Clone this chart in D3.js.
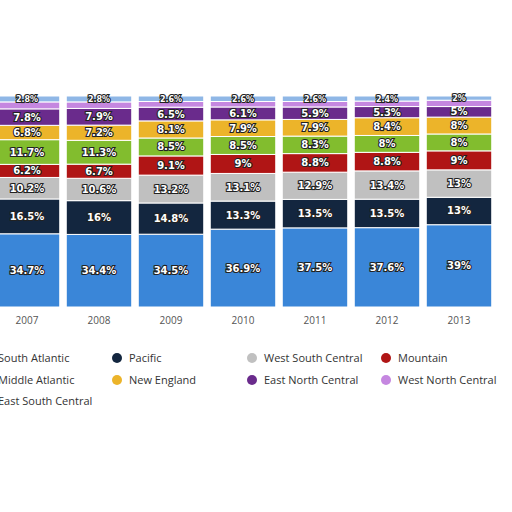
<!DOCTYPE html><html><head><meta charset="utf-8"><script src="https://cdn.jsdelivr.net/npm/d3@7"></script>
<style>body{margin:0;background:#fff}</style></head><body><svg id="c" width="512" height="512"></svg><script>
const years=["2007","2008","2009","2010","2011","2012","2013"];
const series=["South Atlantic","Pacific","West South Central","Mountain","Middle Atlantic","New England","East North Central","West North Central","East South Central"];
const colors=["#3a86d8","#13263f","#c0c0c0","#b01515","#82bd2e","#ecb42a","#6a2b8c","#c587e0","#8fb7e6"];
const southAtlantic=[34.7,34.4,34.5,36.9,37.5,37.6,39];
const pacific=[16.5,16,14.8,13.3,13.5,13.5,13];
const westSouthCentral=[10.2,10.6,13.2,13.1,12.9,13.4,13];
const mountain=[6.2,6.7,9.1,9,8.8,8.8,9];
const middleAtlantic=[11.7,11.3,8.5,8.5,8.3,8,8];
const newEngland=[6.8,7.2,8.1,7.9,7.9,8.4,8];
const eastNorthCentral=[7.8,7.9,6.5,6.1,5.9,5.3,5];
const westNorthCentral=[3.3,3.1,2.7,2.6,2.6,2.6,3];
const eastSouthCentral=[2.8,2.8,2.6,2.6,2.6,2.4,2];
const vals=[southAtlantic,pacific,westSouthCentral,mountain,middleAtlantic,newEngland,eastNorthCentral,westNorthCentral,eastSouthCentral];
const svg=d3.select("#c");
const x=d3.scaleBand().domain(years).range([-9,495]).paddingInner(0.09).paddingOuter(0.045);
const y=d3.scaleLinear().domain([0,100]).range([307,96]);
const data=years.map((yr,i)=>{const o={year:yr};series.forEach((s,j)=>o[s]=vals[j][i]);return o;});
const stack=d3.stack().keys(series)(data);
const g=svg.append("g");
stack.forEach((layer,j)=>{
 g.selectAll(null).data(layer).join("rect").attr("x",d=>x(d.data.year)).attr("width",x.bandwidth())
  .attr("y",d=>y(d[1])).attr("height",d=>y(d[0])-y(d[1])).attr("fill",colors[j]).attr("stroke","#fff").attr("stroke-width",1);
 if(j===7) return;
 g.selectAll(null).data(layer).join("text").attr("x",d=>x(d.data.year)+x.bandwidth()/2)
  .attr("y",d=>(y(d[0])+y(d[1]))/2+(j===8?3:3.5)).attr("text-anchor","middle")
  .attr("font-family","DejaVu Sans").attr("font-weight","bold").attr("font-size",j===8?8:10)
  .attr("fill","#fff").attr("stroke","#222").attr("stroke-width",2.2).attr("paint-order","stroke")
  .text(d=>(+(d[1]-d[0]).toFixed(1))+"%");
});
svg.append("g").attr("transform","translate(0,307)").call(d3.axisBottom(x).tickSize(0).tickPadding(10))
 .call(a=>a.select(".domain").remove()).selectAll("text").attr("font-family","Open Sans").attr("font-size",10).attr("fill","#555");
const legPos=[[-14,358],[117,358],[252,358],[386,358],[-14,380],[117,380],[252,380],[386,380],[-14,401]];
const lg=svg.append("g");
series.forEach((s,k)=>{const [lx,ly]=legPos[k];
 lg.append("circle").attr("cx",lx).attr("cy",ly).attr("r",5).attr("fill",colors[k]);
 lg.append("text").attr("x",lx+12).attr("y",ly+4).attr("font-family","Open Sans").attr("font-size",11).attr("fill","#333").text(s);
});
</script></body></html>
